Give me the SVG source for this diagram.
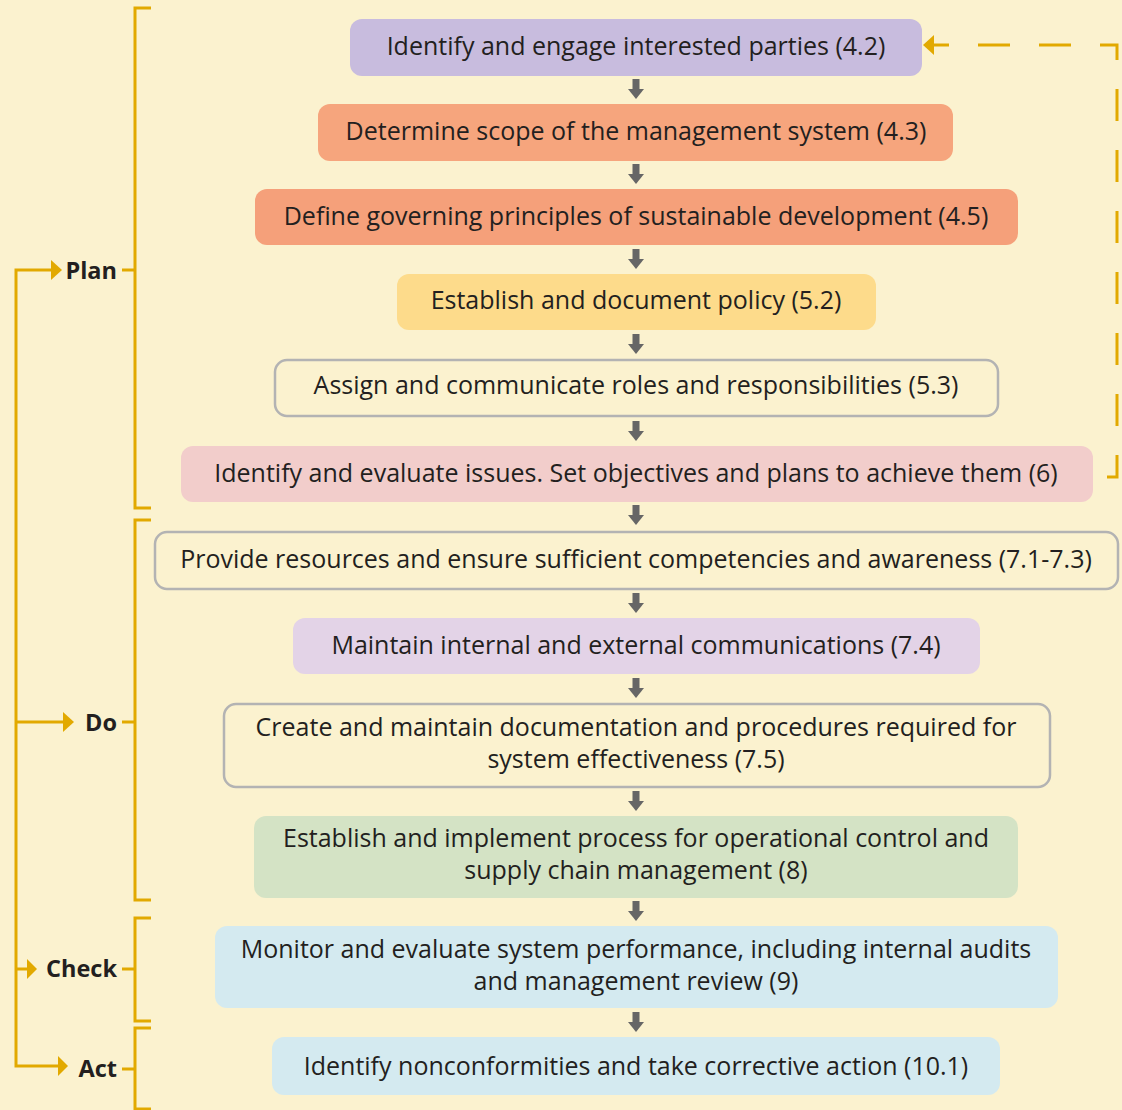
<svg xmlns="http://www.w3.org/2000/svg" width="1122" height="1110" viewBox="0 0 1122 1110">
  <defs>
    <style>
      .box { stroke: none; }
      .outline { fill: none; stroke: #B3B3B3; stroke-width: 2.5; }
      .t { font-family: "Open Sans", Lato, "Liberation Sans", sans-serif; font-size: 25px; fill: #231F20; text-anchor: middle; }
      .lbl { font-family: "Open Sans", Lato, "Liberation Sans", sans-serif; font-size: 23.5px; font-weight: bold; fill: #231F20; text-anchor: end; }
      .gold { fill: none; stroke: #E2A900; stroke-width: 3; }
      .goldfill { fill: #E2A900; }
      .step { fill: #666666; }
    </style>
    <g id="down">
      <rect x="-3.5" y="-11" width="7" height="11" class="step"/>
      <polygon points="-8,-1 8,-1 0,9" class="step"/>
    </g>
  </defs>

  <rect width="1122" height="1110" fill="#FBF2CF"/>

  <!-- phase brackets and labels -->
  <g id="phases">
    <g id="plan">
      <path class="gold" d="M151,8 H135 V508 H151 M122,270 H135"/>
      <text class="lbl" x="117" y="278.5">Plan</text>
    </g>
    <g id="do">
      <path class="gold" d="M151,520 H135 V900 H151 M122,722 H135"/>
      <text class="lbl" x="117" y="730.5">Do</text>
    </g>
    <g id="check">
      <path class="gold" d="M151,918 H135 V1021 H151 M122,969 H135"/>
      <text class="lbl" x="117" y="977">Check</text>
    </g>
    <g id="act">
      <path class="gold" d="M151,1028 H135 V1109 H151 M122,1069 H135"/>
      <text class="lbl" x="117" y="1077">Act</text>
    </g>
  </g>

  <!-- process steps -->
  <g id="n1">
    <rect class="box" x="350" y="19" width="572" height="57" rx="12" fill="#C8BCDE"/>
    <text class="t" x="636" y="55">Identify and engage interested parties (4.2)</text>
  </g>
  <g id="n2">
    <rect class="box" x="318" y="104" width="635" height="57" rx="12" fill="#F6A57D"/>
    <text class="t" x="636" y="140">Determine scope of the management system (4.3)</text>
  </g>
  <g id="n3">
    <rect class="box" x="255" y="189" width="763" height="56" rx="12" fill="#F5A07A"/>
    <text class="t" x="636" y="225">Define governing principles of sustainable development (4.5)</text>
  </g>
  <g id="n4">
    <rect class="box" x="397" y="274" width="479" height="56" rx="12" fill="#FDDB8B"/>
    <text class="t" x="636" y="309">Establish and document policy (5.2)</text>
  </g>
  <g id="n5">
    <rect class="outline" x="275" y="360" width="723" height="56" rx="12"/>
    <text class="t" x="636" y="394">Assign and communicate roles and responsibilities (5.3)</text>
  </g>
  <g id="n6">
    <rect class="box" x="181" y="446" width="912" height="56" rx="12" fill="#F2CDCB"/>
    <text class="t" x="636" y="482">Identify and evaluate issues. Set objectives and plans to achieve them (6)</text>
  </g>
  <g id="n7">
    <rect class="outline" x="155" y="532" width="963" height="57" rx="12"/>
    <text class="t" x="636" y="568">Provide resources and ensure sufficient competencies and awareness (7.1-7.3)</text>
  </g>
  <g id="n8">
    <rect class="box" x="293" y="618" width="687" height="56" rx="12" fill="#E3D3E7"/>
    <text class="t" x="636" y="654">Maintain internal and external communications (7.4)</text>
  </g>
  <g id="n9">
    <rect class="outline" x="224" y="704" width="826" height="83" rx="12"/>
    <text class="t" x="636" y="736">Create and maintain documentation and procedures required for</text>
    <text class="t" x="636" y="768">system effectiveness (7.5)</text>
  </g>
  <g id="n10">
    <rect class="box" x="254" y="816" width="764" height="82" rx="12" fill="#D4E3C5"/>
    <text class="t" x="636" y="847">Establish and implement process for operational control and</text>
    <text class="t" x="636" y="879">supply chain management (8)</text>
  </g>
  <g id="n11">
    <rect class="box" x="215" y="926" width="843" height="82" rx="12" fill="#D4EAF0"/>
    <text class="t" x="636" y="958">Monitor and evaluate system performance, including internal audits</text>
    <text class="t" x="636" y="990">and management review (9)</text>
  </g>
  <g id="n12">
    <rect class="box" x="272" y="1037" width="728" height="58" rx="12" fill="#D4EAF0"/>
    <text class="t" x="636" y="1075">Identify nonconformities and take corrective action (10.1)</text>
  </g>

  <!-- connectors -->
  <g id="connectors">
    <use href="#down" x="636" y="90"/>
    <use href="#down" x="636" y="175"/>
    <use href="#down" x="636" y="260"/>
    <use href="#down" x="636" y="345"/>
    <use href="#down" x="636" y="432"/>
    <use href="#down" x="636" y="516"/>
    <use href="#down" x="636" y="604"/>
    <use href="#down" x="636" y="689"/>
    <use href="#down" x="636" y="802"/>
    <use href="#down" x="636" y="912"/>
    <use href="#down" x="636" y="1023"/>

    <!-- feedback loop from issues back to interested parties -->
    <path class="gold" d="M933,45 H1117 V477 H1094" stroke-dasharray="32 29" stroke-dashoffset="16"/>
    <polygon class="goldfill" points="923,45 934,35 934,55"/>

    <!-- PDCA cycle rail -->
    <path class="gold" d="M51,270 H16 V1066 H58 M16,722 H63 M16,969 H27"/>
    <polygon class="goldfill" points="62,270 51,260 51,280"/>
    <polygon class="goldfill" points="74,722 63,712 63,732"/>
    <polygon class="goldfill" points="37,969 27,959 27,979"/>
    <polygon class="goldfill" points="68,1066 58,1056 58,1076"/>
  </g>
</svg>
